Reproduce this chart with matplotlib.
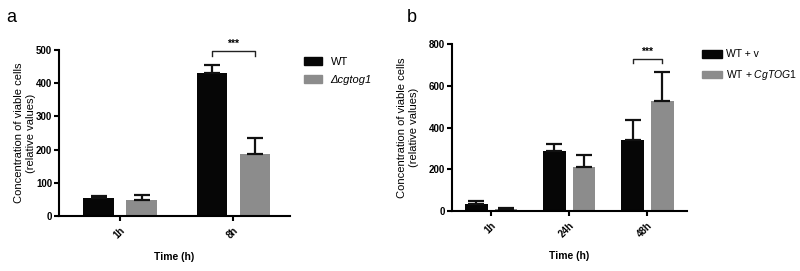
import numpy as np
import matplotlib.pyplot as plt
from matplotlib.patches import Patch

plt.rcParams["font.family"] = ["Liberation Sans", "DejaVu Sans"]
plt.rcParams["axes.unicode_minus"] = False
plt.rcParams["mathtext.fontset"] = "custom"
plt.rcParams["mathtext.rm"] = "Liberation Sans"
plt.rcParams["mathtext.it"] = "Liberation Sans:italic"

# ===== panel a data =====
times_a = ["1h", "8h"]
wt_a = [53, 430]
wt_a_err = [7, 26]
ko_a = [48, 187]
ko_a_err = [16, 49]

# ===== panel b data =====
times_b = ["1h", "24h", "48h"]
v_b = [35, 288, 341]
v_b_err = [15, 32, 94]
og_b = [9, 210, 527]
og_b_err = [4, 60, 137]

BLACK = "#060606"
GREY = "#8c8c8c"
FS = 7.5
FS_TICK = 7.0
FS_LAB = 8.0
FS_LEG = 8.0

fig = plt.figure(figsize=(8.0, 2.71), dpi=100)
ax_a = fig.add_axes([0.07375, 0.203, 0.28875, 0.6125])
ax_b = fig.add_axes([0.565, 0.2214, 0.294, 0.616])


def bars(ax, labels, s1, e1, s2, e2, off, width):
    x = np.arange(len(labels))
    ekw = dict(ecolor="#111111", elinewidth=1.6, capsize=5.5, capthick=1.6)
    ax.bar(x - off, s1, width, color=BLACK,
           yerr=[np.zeros(len(s1)), e1], error_kw=ekw)
    ax.bar(x + off, s2, width, color=GREY,
           yerr=[np.zeros(len(s2)), e2], error_kw=ekw)
    ax.set_xticks(x)
    ax.set_xticklabels(labels, rotation=45, ha="right",
                       rotation_mode="anchor", fontsize=FS_TICK,
                       fontweight="bold")
    for s in ["top", "right"]:
        ax.spines[s].set_visible(False)
    for s in ["left", "bottom"]:
        ax.spines[s].set_linewidth(1.5)
    ax.tick_params(axis="both", direction="out", length=3.5, width=1.5,
                   labelsize=FS_TICK)
    ax.tick_params(axis="y", pad=1.5)
    ax.set_xlabel("Time (h)", fontsize=FS, fontweight="bold", labelpad=8)
    return x


def bracket(ax, x0, x1, y, h, fs=FS):
    ax.plot([x0, x0, x1, x1], [y - h, y, y, y - h], color="#222222", lw=1.0,
            clip_on=False)
    ax.text((x0 + x1) / 2, y + h * 0.5, "***", ha="center", va="bottom",
            fontsize=fs, fontweight="bold", clip_on=False)


# ---- panel a ----
off_a, w_a = 0.19, 0.27
bars(ax_a, times_a, wt_a, wt_a_err, ko_a, ko_a_err, off_a, w_a)
ax_a.set_xlim(-0.54, 1.5)
ax_a.set_ylim(0, 500)
ticks_a = [0, 100, 200, 300, 400, 500]
ax_a.set_yticks(ticks_a)
ax_a.set_yticklabels([str(v) for v in ticks_a], fontweight="bold")
ax_a.set_ylabel("Concentration of viable cells\n(relative values)",
                fontsize=FS_LAB)
ax_a.yaxis.set_label_coords(-0.1, 0.5)
bracket(ax_a, 1 - off_a, 1 + off_a, 497, 14)
leg_a = ax_a.legend(handles=[Patch(color=BLACK, label="WT"),
                             Patch(color=GREY, label="\u0394cgtog1")],
                    loc="center left", bbox_to_anchor=(0.380, 0.739),
                    bbox_transform=fig.transFigure, frameon=False,
                    fontsize=FS_LEG, handlelength=1.6, handleheight=0.7,
                    handletextpad=0.8, labelspacing=0.75, borderpad=0,
                    borderaxespad=0)
leg_a.get_texts()[1].set_fontstyle("italic")

# ---- panel b ----
off_b, w_b = 0.19, 0.29
bars(ax_b, times_b, v_b, v_b_err, og_b, og_b_err, off_b, w_b)
ax_b.set_xlim(-0.5, 2.51)
ax_b.set_ylim(0, 800)
ticks_b = [0, 200, 400, 600, 800]
ax_b.set_yticks(ticks_b)
ax_b.set_yticklabels([str(v) for v in ticks_b], fontweight="bold")
ax_b.set_ylabel("Concentration of viable cells\n(relative values)",
                fontsize=FS_LAB)
ax_b.yaxis.set_label_coords(-0.14, 0.5)
bracket(ax_b, 2 - off_b, 2 + off_b, 728, 20)
leg_b = ax_b.legend(handles=[Patch(color=BLACK, label="WT + v"),
                             Patch(color=GREY, label="WT + $\\mathit{CgTOG1}$")],
                    loc="center left", bbox_to_anchor=(0.8775, 0.757),
                    bbox_transform=fig.transFigure, frameon=False,
                    fontsize=7.5, handlelength=1.9, handleheight=0.75,
                    handletextpad=0.45, labelspacing=0.85, borderpad=0,
                    borderaxespad=0)

fig.text(0.008, 0.935, "a", fontsize=13, va="center")
fig.text(0.508, 0.935, "b", fontsize=13, va="center")

fig.savefig("out.png", dpi=100)
